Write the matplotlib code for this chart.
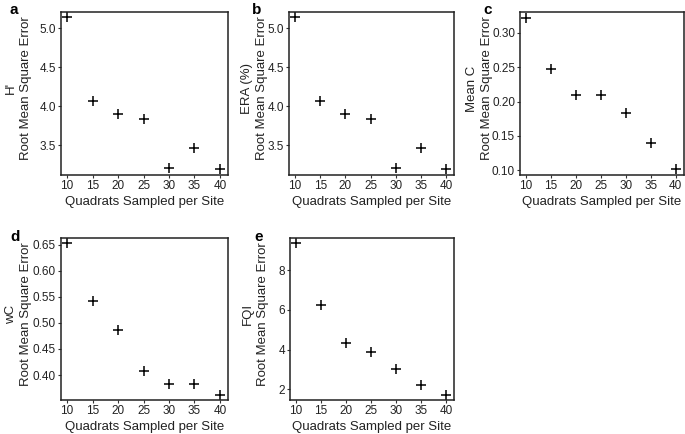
import numpy as np
import matplotlib
matplotlib.use("Agg")
import matplotlib.pyplot as plt
from matplotlib.ticker import FormatStrFormatter

plt.rcParams['font.family'] = ['Liberation Sans', 'DejaVu Sans']

# quadrats sampled per site
quadrats = [10, 15, 20, 25, 30, 35, 40]

# root mean square error
rmse_h = [5.14, 4.07, 3.90, 3.84, 3.21, 3.46, 3.19]
rmse_era = [5.14, 4.07, 3.90, 3.84, 3.21, 3.46, 3.19]
rmse_meanc = [0.322, 0.248, 0.210, 0.210, 0.184, 0.139, 0.101]
rmse_wc = [0.652, 0.542, 0.486, 0.408, 0.382, 0.383, 0.362]
rmse_fqi = [9.35, 6.24, 4.32, 3.88, 3.00, 2.20, 1.70]

letters = ['a', 'b', 'c', 'd', 'e']
metrics = ["H'", "ERA (%)", "Mean C", "wC", "FQI"]
series = [rmse_h, rmse_era, rmse_meanc, rmse_wc, rmse_fqi]
yticks = [[3.5, 4.0, 4.5, 5.0],
          [3.5, 4.0, 4.5, 5.0],
          [0.10, 0.15, 0.20, 0.25, 0.30],
          [0.40, 0.45, 0.50, 0.55, 0.60, 0.65],
          [2, 4, 6, 8]]
yfmt = ['%.1f', '%.1f', '%.2f', '%.2f', '%d']
ylims = [(3.12, 5.21), (3.12, 5.21), (0.093, 0.331), (0.352, 0.662), (1.45, 9.61)]

# axes boxes in figure fraction [left, bottom, width, height]
boxes = [[0.089, 0.597, 0.244, 0.376],
         [0.422, 0.597, 0.241, 0.376],
         [0.759, 0.597, 0.239, 0.376],
         [0.089, 0.078, 0.244, 0.373],
         [0.423, 0.078, 0.240, 0.373]]
letter_x = [-0.305, -0.224, -0.226, -0.305, -0.217]
label_x = [-0.176, -0.128, -0.165, -0.176, -0.126]

fig = plt.figure(figsize=(6.85, 4.34), dpi=100)
txt = '#222222'

for i in range(5):
    ax = fig.add_axes(boxes[i])
    ax.plot(quadrats, series[i], linestyle='none', marker='+', color='black',
            markersize=7, markeredgewidth=1.1)
    ax.set_xlim(8.8, 41.6)
    ax.set_ylim(*ylims[i])
    ax.set_xticks(quadrats)
    ax.set_yticks(yticks[i])
    ax.yaxis.set_major_formatter(FormatStrFormatter(yfmt[i]))
    ax.tick_params(direction='out', length=2.5, width=0.8, labelsize=8.5,
                   colors='#333333', labelcolor=txt, pad=1)
    for s in ax.spines.values():
        s.set_linewidth(1.1)
        s.set_color('#222222')
    ax.set_xlabel('Quadrats Sampled per Site', fontsize=9.5, color=txt, labelpad=3)
    ax.set_ylabel(metrics[i] + '\nRoot Mean Square Error', fontsize=9.5,
                  color=txt, linespacing=1.3)
    ax.yaxis.set_label_coords(label_x[i], 0.53)
    ax.text(letter_x[i], 0.985, letters[i], transform=ax.transAxes, fontsize=11,
            fontweight='bold', va='baseline', ha='left')

fig.savefig('out.png', dpi=100)
